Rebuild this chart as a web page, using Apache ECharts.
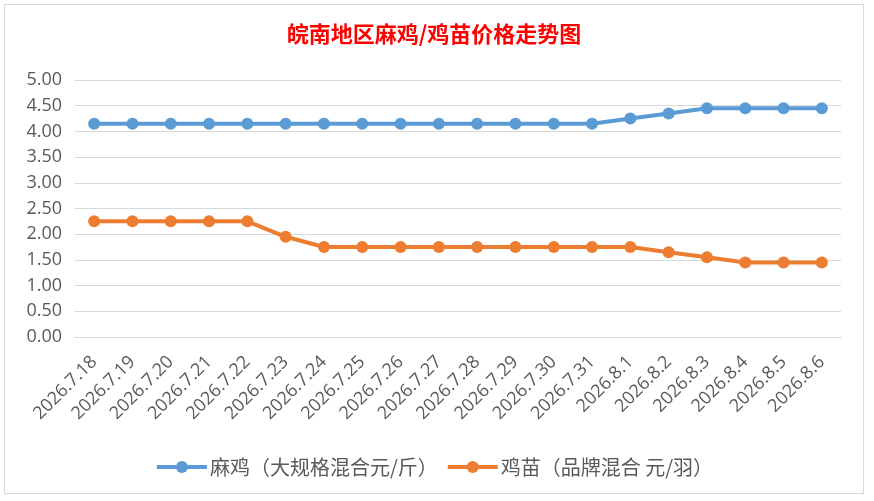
<!DOCTYPE html>
<html>
<head>
<meta charset="utf-8">
<script src="https://cdn.jsdelivr.net/npm/echarts@6/dist/echarts.min.js"></script>
<style>
  html, body { margin: 0; padding: 0; background: #fff; }
  #wrap { position: relative; width: 874px; height: 501px; }
  #main { position: absolute; left: 4px; top: 4px; width: 860px; height: 490px;
          border: 1px solid #d9d9d9; box-sizing: border-box; }
</style>
</head>
<body>
<div id="wrap"><div id="main"></div></div>
<script>
// 日期
var dates = ['2026.7.18','2026.7.19','2026.7.20','2026.7.21','2026.7.22','2026.7.23','2026.7.24',
  '2026.7.25','2026.7.26','2026.7.27','2026.7.28','2026.7.29','2026.7.30','2026.7.31',
  '2026.8.1','2026.8.2','2026.8.3','2026.8.4','2026.8.5','2026.8.6'];
// 麻鸡（大规格混合 元/斤）
var maji = [4.15,4.15,4.15,4.15,4.15,4.15,4.15,4.15,4.15,4.15,4.15,4.15,4.15,4.15,
  4.25,4.35,4.45,4.45,4.45,4.45];
// 鸡苗（品牌混合 元/羽）
var jimiao = [2.25,2.25,2.25,2.25,2.25,1.95,1.75,1.75,1.75,1.75,1.75,1.75,1.75,1.75,
  1.75,1.65,1.55,1.45,1.45,1.45];
var seriesNames = ['麻鸡（大规格混合元/斤）', '鸡苗（品牌混合 元/羽）'];

var myChart = echarts.init(document.getElementById('main'));
var txt = '#595959';
myChart.setOption({
  animation: false,
  title: {
    text: '皖南地区麻鸡/鸡苗价格走势图',
    left: 'center',
    top: 13,
    textStyle: { color: '#ff0000', fontSize: 22, fontWeight: 'bold',
      fontFamily: '"Noto Sans CJK SC"' }
  },
  legend: {
    top: 447,
    left: 'center',
    itemWidth: 50,
    itemHeight: 15,
    itemGap: 8,
    itemStyle: { borderWidth: 0 },
    lineStyle: { width: 4 },
    textStyle: { color: txt, fontSize: 20, fontFamily: '"Noto Sans CJK SC"', padding: [0, 0, 0, -2] },
    data: seriesNames
  },
  grid: { left: 70, right: 22, top: 75, bottom: 156 },
  xAxis: {
    type: 'category',
    data: dates,
    boundaryGap: true,
    axisLine: { lineStyle: { color: '#d9d9d9' } },
    axisTick: { show: false },
    axisLabel: { rotate: 45, interval: 0, color: txt, fontSize: 18, margin: 22,
      fontFamily: '"Open Sans"' }
  },
  yAxis: {
    type: 'value',
    min: 0, max: 5, interval: 0.5,
    axisLine: { show: false },
    axisTick: { show: false },
    splitLine: { lineStyle: { color: '#d9d9d9', width: 1 } },
    axisLabel: { color: txt, fontSize: 18, margin: 13, fontFamily: '"Open Sans"',
      formatter: function (v) { return v.toFixed(2); } }
  },
  series: [
    { name: seriesNames[0], type: 'line', data: maji, symbol: 'circle', symbolSize: 12,
      itemStyle: { color: '#5b9bd5' }, lineStyle: { width: 4, color: '#5b9bd5' } },
    { name: seriesNames[1], type: 'line', data: jimiao, symbol: 'circle', symbolSize: 12,
      itemStyle: { color: '#ed7d31' }, lineStyle: { width: 4, color: '#ed7d31' } }
  ]
});
</script>
</body>
</html>
